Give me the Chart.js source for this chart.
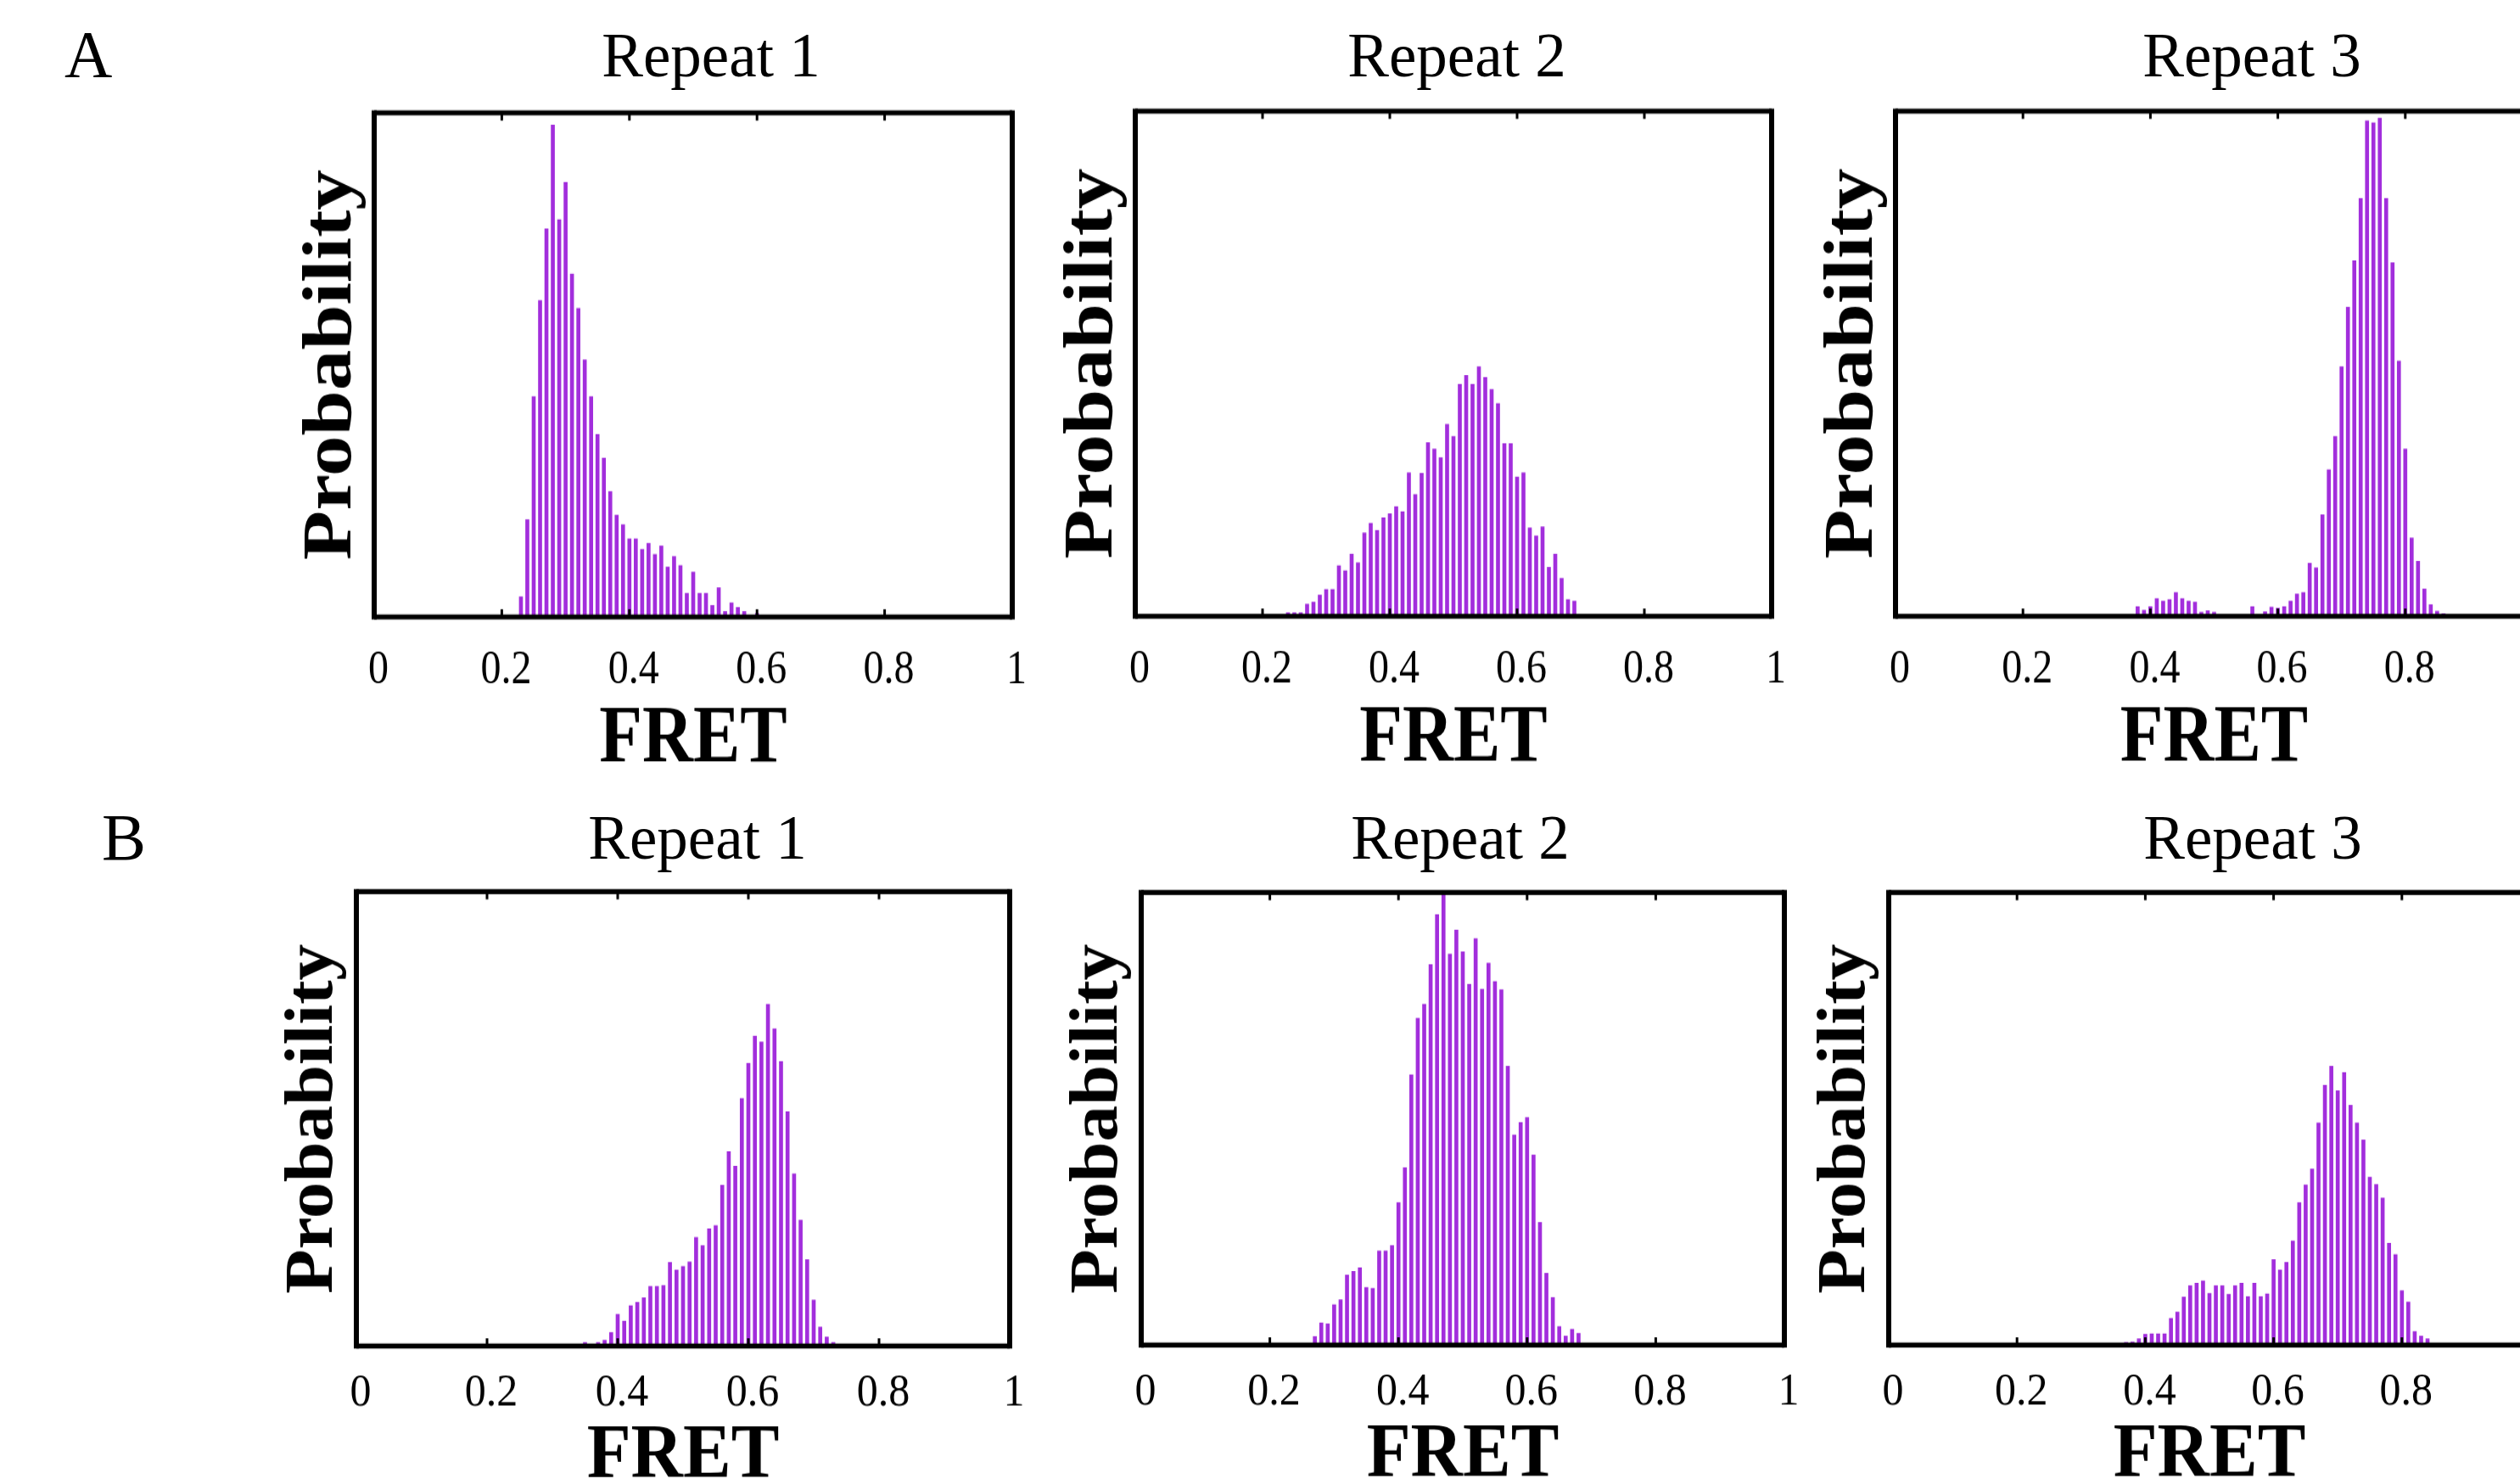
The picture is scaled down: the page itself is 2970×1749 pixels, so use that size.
<!DOCTYPE html>
<html>
<head>
<meta charset="utf-8">
<script src="https://cdn.jsdelivr.net/npm/chart.js@4.4.1/dist/chart.umd.min.js"></script>
<style>
    html, body { margin: 0; padding: 0; background: #fff; overflow: hidden; }
    #page { position: relative; width: 2970px; height: 1749px; overflow: hidden; font-family: "Liberation Serif", "Times New Roman", serif; }
    .panel { position: absolute; transform-origin: 0 0; }
    .txt { position: absolute; white-space: nowrap; color: #000; line-height: 1; }
</style>
</head>
<body>
<div id="page"></div>
<script>
// histogrammes FRET, largeur de bin 0.01, hauteur relative (1 = haut du cadre)
const binWidth = 0.01;
const fretTicks = [0, 0.2, 0.4, 0.6, 0.8, 1];
const fretTickLabels = ['0', '0.2', '0.4', '0.6', '0.8', '1'];
const repeatTitles = ['Repeat 1', 'Repeat 2', 'Repeat 3'];
const rowLetters = ['A', 'B'];

// A - Repeat 1 (premier bin 0.22)
const startA1 = 0.22;
const probA1 = [0.003, 0.040, 0.193, 0.437, 0.628, 0.770, 0.976, 0.788, 0.862, 0.680,
    0.612, 0.510, 0.437, 0.362, 0.315, 0.249, 0.202, 0.183, 0.155, 0.155,
    0.134, 0.146, 0.124, 0.141, 0.099, 0.120, 0.102, 0.047, 0.089, 0.047,
    0.047, 0.023, 0.058, 0.011, 0.028, 0.019, 0.011, 0.0, 0.007, 0.002];
// A - Repeat 2
const startA2 = 0.24;
const probA2 = [0.007, 0.007, 0.007, 0.024, 0.028, 0.042, 0.053, 0.053, 0.100, 0.090,
    0.123, 0.106, 0.165, 0.184, 0.170, 0.195, 0.203, 0.217, 0.207, 0.284,
    0.241, 0.283, 0.344, 0.331, 0.314, 0.380, 0.356, 0.459, 0.477, 0.459,
    0.494, 0.473, 0.449, 0.421, 0.342, 0.342, 0.276, 0.284, 0.175, 0.159,
    0.177, 0.097, 0.123, 0.075, 0.033, 0.030];
// A - Repeat 3
const startA3 = 0.38;
const probA3 = [0.019, 0.012, 0.019, 0.035, 0.030, 0.033, 0.047, 0.035, 0.030, 0.028,
    0.008, 0.011, 0.008, 0.002, 0.002, 0.0, 0.002, 0.002, 0.019, 0.0,
    0.009, 0.018, 0.016, 0.019, 0.030, 0.044, 0.047, 0.105, 0.096, 0.201,
    0.290, 0.356, 0.494, 0.612, 0.704, 0.827, 0.981, 0.977, 0.986, 0.827,
    0.700, 0.505, 0.331, 0.155, 0.109, 0.054, 0.023, 0.010, 0.005];
// B - Repeat 1
const startB1 = 0.35;
const probB1 = [0.008, 0.0, 0.008, 0.013, 0.030, 0.070, 0.055, 0.089, 0.096, 0.106,
    0.131, 0.131, 0.133, 0.184, 0.167, 0.175, 0.185, 0.239, 0.221, 0.258,
    0.265, 0.354, 0.428, 0.396, 0.545, 0.622, 0.682, 0.669, 0.752, 0.698,
    0.626, 0.516, 0.379, 0.277, 0.190, 0.101, 0.042, 0.020, 0.008, 0.003];
// B - Repeat 2
const startB2 = 0.27;
const probB2 = [0.019, 0.049, 0.047, 0.089, 0.100, 0.155, 0.163, 0.171, 0.127, 0.125,
    0.208, 0.208, 0.220, 0.315, 0.392, 0.597, 0.722, 0.753, 0.841, 0.951,
    1.0, 0.864, 0.917, 0.869, 0.797, 0.898, 0.786, 0.844, 0.803, 0.785,
    0.616, 0.464, 0.492, 0.503, 0.420, 0.271, 0.159, 0.105, 0.041, 0.020,
    0.035, 0.026, 0.002];
// B - Repeat 3
const startB3 = 0.35;
const probB3 = [0.002, 0.0, 0.006, 0.007, 0.014, 0.024, 0.025, 0.025, 0.025, 0.059,
    0.073, 0.106, 0.131, 0.137, 0.142, 0.114, 0.131, 0.131, 0.112, 0.131,
    0.137, 0.107, 0.137, 0.107, 0.113, 0.189, 0.166, 0.183, 0.230, 0.315,
    0.354, 0.389, 0.491, 0.574, 0.616, 0.562, 0.602, 0.530, 0.491, 0.453,
    0.371, 0.355, 0.325, 0.225, 0.200, 0.120, 0.095, 0.030, 0.020, 0.014];

const serif = '"Liberation Serif", "Times New Roman", serif';
const barColor = '#a22edc';

// reglages par ligne de figure (la figure d'origine est un peu etiree verticalement)
const rows = {
    A: { stretch: 1.165, tickSize: 48, tickMid: 54, titleSize: 83, titleMid: 124.5, yTitleSize: 82 },
    B: { stretch: 1.07, tickSize: 50, tickMid: 52.5, titleSize: 85, titleMid: 123, yTitleSize: 80 }
};

// position des cadres sur la page
const panels = [
    { row: 'A', start: startA1, values: probA1, left: 441, right: 1193, top: 133, bottom: 727 },
    { row: 'A', start: startA2, values: probA2, left: 1338, right: 2088, top: 131, bottom: 726 },
    { row: 'A', start: startA3, values: probA3, left: 2234, right: 2985, top: 131, bottom: 726 },
    { row: 'B', start: startB1, values: probB1, left: 420, right: 1190, top: 1051, bottom: 1586 },
    { row: 'B', start: startB2, values: probB2, left: 1345, right: 2103, top: 1052, bottom: 1585 },
    { row: 'B', start: startB3, values: probB3, left: 2226, right: 2982, top: 1052, bottom: 1585 }
];

// textes hors graphes
const labels = [
    { text: rowLetters[0], x: 76, baseline: 90, size: 78, align: 'left' },
    { text: repeatTitles[0], x: 838, baseline: 90, size: 73, align: 'center' },
    { text: repeatTitles[1], x: 1717, baseline: 90, size: 73, align: 'center' },
    { text: repeatTitles[2], x: 2654, baseline: 90, size: 73, align: 'center' },
    { text: rowLetters[1], x: 120, baseline: 1013, size: 78, align: 'left' },
    { text: repeatTitles[0], x: 822, baseline: 1012, size: 73, align: 'center' },
    { text: repeatTitles[1], x: 1721, baseline: 1012, size: 73, align: 'center' },
    { text: repeatTitles[2], x: 2655, baseline: 1012, size: 73, align: 'center' }
];

const page = document.getElementById('page');

labels.forEach(l => {
    const d = document.createElement('div');
    d.className = 'txt';
    d.textContent = l.text;
    d.style.fontSize = l.size + 'px';
    d.style.top = (l.baseline - 0.8375 * l.size) + 'px';
    if (l.align === 'center') {
        d.style.left = (l.x - 500) + 'px';
        d.style.width = '1000px';
        d.style.textAlign = 'center';
    } else {
        d.style.left = l.x + 'px';
    }
    page.appendChild(d);
});

// cadre noir + petites graduations internes
const framePlugin = {
    id: 'frame',
    afterDraw(chart, args, opts) {
        const { ctx, chartArea: a } = chart;
        const x = chart.scales.x;
        const s = opts.stretch;
        ctx.save();
        ctx.strokeStyle = '#000';
        ctx.lineWidth = 6;
        ctx.beginPath();
        ctx.moveTo(a.left, a.top - 3 / s); ctx.lineTo(a.left, a.bottom + 3 / s);
        ctx.moveTo(a.right, a.top - 3 / s); ctx.lineTo(a.right, a.bottom + 3 / s);
        ctx.stroke();
        ctx.lineWidth = 6 / s;
        ctx.beginPath();
        ctx.moveTo(a.left, a.top); ctx.lineTo(a.right, a.top);
        ctx.moveTo(a.left, a.bottom); ctx.lineTo(a.right, a.bottom);
        ctx.stroke();
        ctx.lineWidth = 3;
        ctx.beginPath();
        x.ticks.forEach(t => {
            if (t.value <= x.min || t.value >= x.max) return;
            const px = x.getPixelForValue(t.value);
            ctx.moveTo(px, a.bottom); ctx.lineTo(px, a.bottom - 9 / s);
            ctx.moveTo(px, a.top); ctx.lineTo(px, a.top + 9 / s);
        });
        ctx.stroke();
        ctx.restore();
    }
};

function makePanel(p) {
    const row = rows[p.row];
    const S = row.stretch;
    const padTop = 12, padRight = 40, padBottom = 6, yAxisW = 90;
    const chartH = (p.bottom - p.top) / S;
    const xAxisH = row.titleMid + row.titleSize / 2;
    const w = Math.round(yAxisW + (p.right - p.left) + padRight);
    const h = Math.round(padTop + chartH + xAxisH + padBottom);

    const box = document.createElement('div');
    box.className = 'panel';
    box.style.left = (p.left - yAxisW) + 'px';
    box.style.top = (p.top - padTop * S) + 'px';
    box.style.transform = 'scaleY(' + S + ')';
    const cv = document.createElement('canvas');
    cv.width = w; cv.height = h;
    cv.style.width = w + 'px'; cv.style.height = h + 'px';
    box.appendChild(cv);
    page.appendChild(box);

    const points = p.values.map((v, i) => ({ x: +(p.start + i * binWidth).toFixed(2), y: v }));

    new Chart(cv.getContext('2d'), {
        type: 'bar',
        data: {
            datasets: [{
                data: points,
                backgroundColor: barColor,
                borderWidth: 0,
                barThickness: 4
            }]
        },
        options: {
            responsive: false,
            animation: false,
            devicePixelRatio: 1,
            layout: { padding: { left: 0, right: padRight, top: padTop, bottom: padBottom } },
            plugins: { legend: { display: false }, tooltip: { enabled: false }, frame: { stretch: S } },
            scales: {
                x: {
                    type: 'linear', min: 0, max: 1, offset: false,
                    afterBuildTicks: s => { s.ticks = fretTicks.map(v => ({ value: v })); },
                    afterFit: s => { s.height = xAxisH; },
                    ticks: {
                        autoSkip: false, maxRotation: 0, color: '#000',
                        labelOffset: 5,
                        padding: row.tickMid - row.tickSize * 0.6,
                        font: { family: serif, size: row.tickSize, lineHeight: 1.2 },
                        callback: (v, i) => fretTickLabels[i]
                    },
                    grid: { display: false, drawTicks: false },
                    border: { display: false },
                    title: {
                        display: true, text: 'FRET', color: '#000', padding: 0,
                        font: { family: serif, size: row.titleSize, weight: 'bold', lineHeight: 1 }
                    }
                },
                y: {
                    min: 0, max: 1,
                    afterFit: s => { s.width = yAxisW; },
                    ticks: { display: false },
                    grid: { display: false, drawTicks: false },
                    border: { display: false },
                    title: {
                        display: true, text: 'Probability', color: '#000', padding: 0,
                        font: { family: serif, size: row.yTitleSize, weight: 'bold', lineHeight: 1 }
                    }
                }
            }
        },
        plugins: [framePlugin]
    });
}

panels.forEach(makePanel);
</script>
</body>
</html>
